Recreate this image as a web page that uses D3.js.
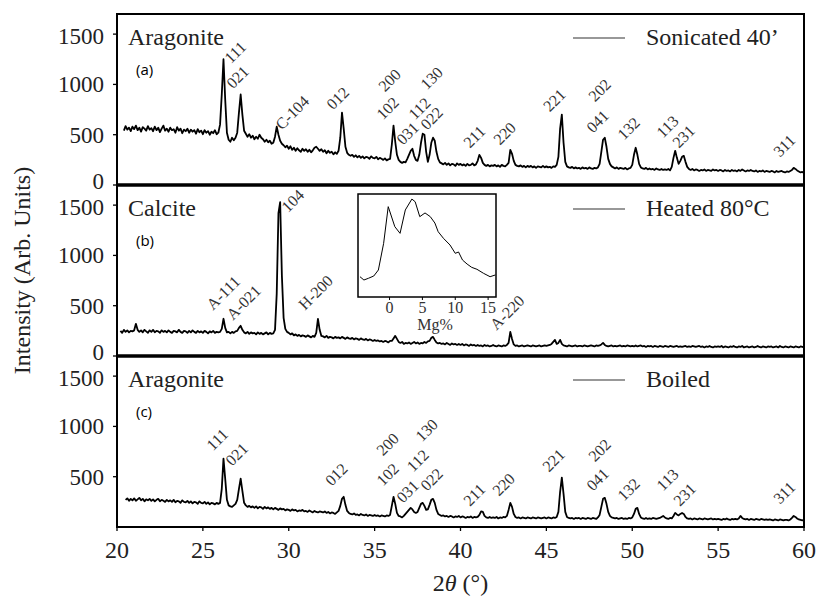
<!DOCTYPE HTML>
<html>
<head>
<meta charset="utf-8">
<title>XRD</title>
<script src="https://d3js.org/d3.v7.min.js"></script>
<style>
  body { margin: 0; background: #ffffff; }
</style>
</head>

<body>
<script>

"use strict";

// 2theta grid: each series starts at its own angle, one reading every 0.1 deg
const step = 0.1;

const sonicatedStart = 20.4;
const sonicated = [
  540, 585, 550, 570, 535, 580,
  555, 590, 545, 570, 530, 575, 560, 540, 585, 550,
  565, 535, 580, 545, 570, 525, 560, 590, 540, 560,
  530, 570, 545, 555, 520, 575, 540, 560, 515, 550,
  535, 560, 520, 550, 530, 545, 510, 555, 525, 540,
  505, 545, 520, 535, 500, 530, 515, 545, 505, 520,
  600, 900, 1250, 850, 520, 450, 430, 470, 445, 470,
  520, 720, 900, 700, 540, 510, 480, 505, 470, 490,
  455, 480, 460, 500, 470, 455, 430, 450, 425, 440,
  410, 420, 480, 580, 500, 440, 410, 395, 375, 390,
  360, 385, 350, 370, 340, 365, 345, 330, 360, 340,
  355, 330, 350, 325, 345, 370, 380, 360, 340, 355,
  330, 345, 315, 340, 320, 330, 305, 325, 310, 340,
  470, 720, 560, 380, 320, 300, 290, 300, 280, 295,
  275, 290, 270, 285, 265, 280, 275, 260, 285, 270,
  265, 280, 255, 270, 260, 250, 265, 245, 255, 260,
  400, 590, 430, 300, 250, 230, 220, 230, 225, 260,
  300, 340, 360, 290, 250, 240, 300, 420, 510, 500,
  330, 230, 300, 420, 470, 440, 330, 260, 225, 215,
  205, 220, 200, 215, 195, 210, 205, 190, 215, 200,
  210, 195, 205, 190, 210, 195, 200, 215, 195, 205,
  240, 300, 270, 220, 200, 190, 200, 185, 195, 190,
  200, 185, 195, 180, 200, 190, 185, 200, 220, 350,
  310, 240, 200, 190, 185, 195, 180, 190, 175, 190,
  180, 190, 175, 185, 170, 185, 180, 175, 190, 175,
  185, 175, 180, 170, 185, 180, 200, 280, 560, 700,
  420, 230, 185, 175, 170, 180, 165, 175, 165, 170,
  160, 175, 165, 170, 160, 175, 165, 160, 170, 165,
  175, 210, 330, 450, 470, 380, 260, 210, 185, 175,
  165, 175, 160, 170, 165, 160, 170, 155, 165, 170,
  200, 300, 370, 300, 210, 175, 165, 160, 170, 155,
  165, 155, 160, 150, 165, 155, 150, 160, 150, 155,
  150, 160, 145, 180, 270, 340, 270, 210, 240, 280,
  290, 230, 180, 160, 150, 160, 145, 155, 150, 140,
  150, 145, 155, 140, 150, 145, 140, 155, 145, 150,
  140, 150, 145, 135, 150, 140, 145, 135, 150, 140,
  145, 135, 150, 140, 155, 145, 135, 145, 140, 150,
  140, 135, 145, 130, 140, 135, 145, 130, 140, 135,
  130, 140, 135, 125, 140, 130, 135, 140, 130, 125,
  135, 130, 140, 150, 170, 160, 145, 135, 125, 130,
  120
];

const heatedStart = 20.2;
const heated = [
  250, 230, 260, 240, 255, 235, 250, 245,
  255, 320, 260, 240, 255, 235, 260, 245, 230, 255,
  240, 260, 235, 250, 245, 230, 255, 240, 250, 235,
  255, 240, 230, 250, 245, 235, 260, 240, 230, 250,
  245, 230, 250, 235, 255, 240, 230, 250, 235, 245,
  230, 250, 240, 225, 245, 235, 250, 230, 240, 235,
  240, 270, 370, 280, 235, 240, 225, 240, 230, 245,
  250, 280, 300, 260, 235, 225, 240, 220, 235, 225,
  230, 215, 235, 220, 230, 215, 225, 235, 215, 230,
  220, 225, 260, 620, 1420, 1530, 800, 380, 270, 240,
  230, 215, 225, 205, 215, 200, 210, 195, 205, 200,
  190, 205, 195, 185, 200, 190, 230, 370, 260, 200,
  195, 185, 200, 180, 190, 185, 175, 190, 180, 185,
  175, 190, 180, 170, 185, 175, 170, 180, 165, 175,
  170, 160, 175, 165, 160, 170, 155, 165, 160, 150,
  160, 150, 155, 145, 150, 140, 150, 145, 135, 150,
  150, 175, 200, 170, 140, 130, 140, 120, 130, 125,
  135, 120, 130, 140, 125, 135, 120, 130, 125, 140,
  130, 145, 150, 180, 190, 160, 135, 125, 130, 120,
  125, 115, 130, 120, 110, 125, 115, 120, 110, 120,
  110, 120, 105, 115, 110, 100, 115, 105, 110, 100,
  110, 100, 105, 95, 110, 100, 105, 95, 100, 110,
  100, 95, 105, 100, 95, 105, 100, 110, 130, 240,
  170, 115, 100, 105, 95, 100, 105, 95, 100, 105,
  100, 95, 105, 100, 95, 100, 105, 95, 100, 105,
  100, 105, 110, 120, 140, 160, 120, 130, 160, 120,
  105, 100, 95, 105, 100, 95, 100, 105, 95, 100,
  100, 95, 105, 100, 95, 100, 105, 100, 95, 105,
  100, 105, 115, 130, 110, 100, 95, 100, 105, 95,
  100, 95, 100, 105, 95, 100, 95, 105, 100, 95,
  100, 95, 105, 95, 100, 105, 95, 100, 90, 100,
  95, 100, 90, 100, 95, 90, 100, 95, 90, 100,
  95, 90, 100, 95, 90, 95, 100, 90, 95, 90,
  95, 100, 90, 95, 90, 100, 95, 90, 95, 100,
  90, 95, 85, 95, 90, 100, 90, 85, 95, 90,
  95, 90, 100, 85, 95, 90, 85, 95, 90, 100,
  90, 85, 95, 90, 100, 85, 90, 95, 85, 90,
  95, 85, 90, 100, 90, 85, 95, 90, 85, 95,
  90, 95, 85, 90, 95, 85, 100, 90, 85, 95,
  90, 85, 95, 90, 85, 95, 90, 85, 95, 90,
  85
];

const boiledStart = 20.5;
const boiled = [
  270, 285, 260, 280, 265,
  285, 260, 275, 290, 265, 280, 255, 275, 265, 280,
  260, 275, 255, 270, 280, 255, 270, 260, 250, 270,
  255, 265, 250, 270, 245, 260, 255, 240, 265, 250,
  245, 260, 240, 255, 235, 250, 245, 230, 255, 240,
  235, 250, 230, 245, 225, 240, 235, 225, 240, 230,
  240, 380, 680, 480, 270, 215, 205, 200, 215, 230,
  270, 380, 480, 360, 240, 215, 200, 210, 195, 205,
  190, 205, 185, 200, 195, 180, 200, 185, 195, 180,
  190, 175, 190, 180, 170, 185, 175, 180, 165, 175,
  170, 160, 175, 165, 170, 155, 165, 160, 170, 155,
  160, 150, 165, 155, 145, 160, 150, 145, 155, 150,
  145, 155, 140, 150, 135, 145, 140, 130, 145, 160,
  210, 280, 300, 220, 160, 140, 130, 125, 135, 120,
  125, 115, 130, 120, 115, 125, 110, 120, 115, 110,
  120, 110, 115, 105, 115, 110, 105, 115, 110, 120,
  210, 300, 230, 140, 110, 105, 95, 110, 130, 150,
  170, 190, 175, 150, 140, 150, 190, 230, 240, 210,
  170, 175, 220, 270, 280, 240, 170, 130, 120, 110,
  115, 105, 110, 100, 110, 105, 95, 105, 100, 110,
  95, 105, 100, 90, 100, 95, 105, 90, 100, 95,
  100, 120, 155, 150, 110, 95, 90, 100, 90, 95,
  90, 100, 85, 95, 90, 100, 95, 110, 170, 240,
  200, 130, 100, 90, 95, 85, 95, 90, 85, 95,
  90, 85, 95, 90, 85, 95, 90, 85, 90, 95,
  85, 95, 90, 85, 95, 90, 100, 150, 350, 490,
  330, 150, 100, 90, 85, 90, 80, 90, 85, 90,
  80, 90, 85, 80, 90, 85, 80, 90, 85, 80,
  95, 120, 200, 280, 290, 230, 150, 110, 95, 90,
  85, 90, 80, 85, 90, 80, 85, 80, 90, 85,
  95, 130, 180, 190, 130, 95, 85, 80, 90, 80,
  85, 80, 90, 85, 80, 85, 90, 100, 110, 95,
  85, 80, 90, 85, 110, 140, 125, 115, 130, 140,
  130, 100, 85, 80, 85, 75, 85, 80, 75, 85,
  80, 75, 85, 80, 75, 80, 85, 75, 80, 75,
  80, 75, 70, 80, 75, 85, 75, 70, 80, 75,
  80, 75, 85, 110, 90, 80, 75, 80, 70, 80,
  75, 70, 80, 75, 70, 80, 75, 70, 75, 70,
  75, 70, 65, 75, 70, 65, 75, 70, 65, 70,
  70, 65, 75, 90, 110, 100, 85, 75, 70, 65,
  70
];

// peak labels: [text, 2theta, intensity] of the label's lower-left corner
const sonicatedPeaks = [
  ["111", 26.64, 1200], ["021", 26.75, 950], ["C-104", 29.6, 540], ["012", 32.58, 740],
  ["200", 35.6, 920], ["102", 35.49, 640], ["031", 36.65, 390], ["112", 37.35, 640],
  ["022", 38.05, 540], ["130", 38.05, 940], ["211", 40.55, 360], ["220", 42.3, 390],
  ["221", 45.2, 720], ["202", 47.83, 820], ["041", 47.71, 510], ["132", 49.52, 440],
  ["113", 51.79, 460], ["231", 52.72, 360], ["311", 58.6, 270]
];
const heatedPeaks = [
  ["A-111", 25.59, 450], ["A-021", 26.75, 350], ["104", 29.96, 1420],
  ["H-200", 30.95, 450], ["A-220", 42.1, 250]
];
const boiledPeaks = [
  ["111", 25.59, 750], ["021", 26.7, 600], ["012", 32.5, 400], ["200", 35.49, 700],
  ["102", 35.49, 400], ["031", 36.65, 230], ["112", 37.25, 540], ["022", 38.05, 350],
  ["130", 37.76, 840], ["211", 40.55, 200], ["220", 42.24, 300], ["221", 45.15, 540],
  ["202", 47.83, 640], ["041", 47.71, 350], ["132", 49.52, 250], ["113", 51.79, 350],
  ["231", 52.78, 200], ["311", 58.6, 220]
];

const panelTitles = ["Aragonite", "Calcite", "Aragonite"];
const panelTags = ["(a)", "(b)", "(c)"];
const legendNames = ["Sonicated 40\u2019", "Heated 80\u00b0C", "Boiled"];

const xTicks = [20, 25, 30, 35, 40, 45, 50, 55, 60];
const yTicks = [0, 500, 1000, 1500];

// inset: Mg content distribution
const insetMg = [-4.5, -3.9, -3.2, -2.4, -1.7, -0.9, -0.2, 0.8, 1.6, 2.4, 3.4, 3.9, 4.6, 5.4,
  6.2, 6.9, 7.4, 8.2, 9.2, 10.0, 10.5, 11.1, 11.8, 12.5, 13.3, 14.3, 15.3, 16.1];
const insetCounts = [19.7, 16.5, 18.2, 20.4, 26.2, 52.1, 87.7, 68.3, 61.8, 84.5, 95.1, 92.5, 78, 81.6,
  78, 71.8, 63.4, 57, 50.5, 42.4, 43.7, 35.9, 32, 28.8, 26.9, 23, 19.7, 21.4];
const insetTicks = [0, 5, 10, 15];

const serif = "'Liberation Serif', 'Times New Roman', serif";
const big = 24;

const svg = d3.select("body").append("svg")
  .attr("width", 816)
  .attr("height", 597);

const left = 117, right = 804, top0 = 14, panelH = 171;

const x = d3.scaleLinear().domain([20, 60]).range([left, right]);

const panels = [
  {values: sonicated, start: sonicatedStart, peaks: sonicatedPeaks},
  {values: heated, start: heatedStart, peaks: heatedPeaks},
  {values: boiled, start: boiledStart, peaks: boiledPeaks}
];

panels.forEach((p, k) => {
  const top = top0 + k * panelH;
  const bottom = top + panelH;
  const y = d3.scaleLinear().domain([0, 1700]).range([bottom, top]);
  const g = svg.append("g");

  const line = d3.line()
    .x((d, i) => x(p.start + i * step))
    .y((d) => y(d));

  g.append("path")
    .datum(p.values)
    .attr("d", line)
    .attr("fill", "none")
    .attr("stroke", "#000000")
    .attr("stroke-width", 1.8)
    .attr("stroke-linejoin", "round");

  // y axis ticks
  const ticks = k === 2 ? yTicks.filter((t) => t > 0) : yTicks;
  g.selectAll(".ytick")
    .data(ticks)
    .enter()
    .append("line")
    .attr("x1", left - 4)
    .attr("x2", left)
    .attr("y1", (d) => y(d))
    .attr("y2", (d) => y(d))
    .attr("stroke", "#000000")
    .attr("stroke-width", 1.3);

  // "0" and "1500" sit close to the panel joins, nudge them apart a little
  g.selectAll(".ylab")
    .data(ticks)
    .enter()
    .append("text")
    .attr("x", left - 13)
    .attr("y", (d) => y(d) + (d === 0 ? 4 : d === 1500 ? 10 : 8))
    .attr("text-anchor", "end")
    .attr("font-family", serif)
    .attr("font-size", 23)
    .attr("fill", "#222")
    .text((d) => d);

  // frame
  g.append("rect")
    .attr("x", left)
    .attr("y", top)
    .attr("width", right - left)
    .attr("height", panelH)
    .attr("fill", "none")
    .attr("stroke", "#000000")
    .attr("stroke-width", 2);

  g.append("text")
    .attr("x", 128)
    .attr("y", top + 31)
    .attr("font-family", serif)
    .attr("font-size", big)
    .attr("fill", "#222")
    .text(panelTitles[k]);

  g.append("text")
    .attr("x", 136)
    .attr("y", top + 61)
    .attr("font-family", "'Open Sans', sans-serif")
    .attr("font-size", 15)
    .attr("fill", "#000")
    .text(panelTags[k]);

  g.append("line")
    .attr("x1", 573)
    .attr("x2", 625)
    .attr("y1", top + 24)
    .attr("y2", top + 24)
    .attr("stroke", "#333")
    .attr("stroke-width", 1.2);

  g.append("text")
    .attr("x", 646)
    .attr("y", top + 31)
    .attr("font-family", serif)
    .attr("font-size", big)
    .attr("fill", "#222")
    .text(legendNames[k]);

  g.selectAll(".peak")
    .data(p.peaks)
    .enter()
    .append("text")
    .attr("transform", (d) => "translate(" + x(d[1]) + "," + y(d[2]) + ") rotate(-45)")
    .attr("font-family", serif)
    .attr("font-size", 16)
    .attr("fill", "#333")
    .text((d) => d[0]);
});

// thicker separators between panels
[1, 2].forEach((k) => {
  svg.append("line")
    .attr("x1", left)
    .attr("x2", right)
    .attr("y1", top0 + k * panelH)
    .attr("y2", top0 + k * panelH)
    .attr("stroke", "#000000")
    .attr("stroke-width", 3.5);
});

// x axis
const xBase = top0 + 3 * panelH;
svg.selectAll(".xtick")
  .data(xTicks)
  .enter()
  .append("line")
  .attr("x1", (d) => x(d))
  .attr("x2", (d) => x(d))
  .attr("y1", xBase)
  .attr("y2", xBase + 4)
  .attr("stroke", "#000000")
  .attr("stroke-width", 1.3);

svg.selectAll(".xlab")
  .data(xTicks)
  .enter()
  .append("text")
  .attr("x", (d) => x(d))
  .attr("y", 558)
  .attr("text-anchor", "middle")
  .attr("font-family", serif)
  .attr("font-size", big)
  .attr("fill", "#222")
  .text((d) => d);

const xTitle = svg.append("text")
  .attr("x", (left + right) / 2)
  .attr("y", 591)
  .attr("text-anchor", "middle")
  .attr("font-family", serif)
  .attr("font-size", big)
  .attr("fill", "#222");
xTitle.append("tspan").text("2");
xTitle.append("tspan").attr("font-style", "italic").text("\u03b8");
xTitle.append("tspan").text(" (\u00b0)");

svg.append("text")
  .attr("transform", "translate(30," + (top0 + 1.5 * panelH) + ") rotate(-90)")
  .attr("text-anchor", "middle")
  .attr("font-family", serif)
  .attr("font-size", big)
  .attr("fill", "#222")
  .text("Intensity (Arb. Units)");

// inset
const ix = d3.scaleLinear().domain([-4.8, 16.2]).range([358, 496]);
const iy = d3.scaleLinear().domain([0, 100]).range([297, 194]);
const inset = svg.append("g");

inset.append("rect")
  .attr("x", 358)
  .attr("y", 194)
  .attr("width", 138)
  .attr("height", 103)
  .attr("fill", "#ffffff")
  .attr("stroke", "#000000")
  .attr("stroke-width", 1.5);

inset.append("path")
  .datum(d3.zip(insetMg, insetCounts))
  .attr("d", d3.line().x((d) => ix(d[0])).y((d) => iy(d[1])))
  .attr("fill", "none")
  .attr("stroke", "#000000")
  .attr("stroke-width", 1);

inset.selectAll(".itick")
  .data(insetTicks)
  .enter()
  .append("line")
  .attr("x1", (d) => ix(d))
  .attr("x2", (d) => ix(d))
  .attr("y1", 297)
  .attr("y2", 300)
  .attr("stroke", "#000000");

inset.selectAll(".ilab")
  .data(insetTicks)
  .enter()
  .append("text")
  .attr("x", (d) => ix(d))
  .attr("y", 313)
  .attr("text-anchor", "middle")
  .attr("font-family", serif)
  .attr("font-size", 16)
  .attr("fill", "#333")
  .text((d) => d);

inset.append("text")
  .attr("x", 435)
  .attr("y", 330)
  .attr("text-anchor", "middle")
  .attr("font-family", serif)
  .attr("font-size", 16)
  .attr("fill", "#333")
  .text("Mg%");

</script>
</body>
</html>
